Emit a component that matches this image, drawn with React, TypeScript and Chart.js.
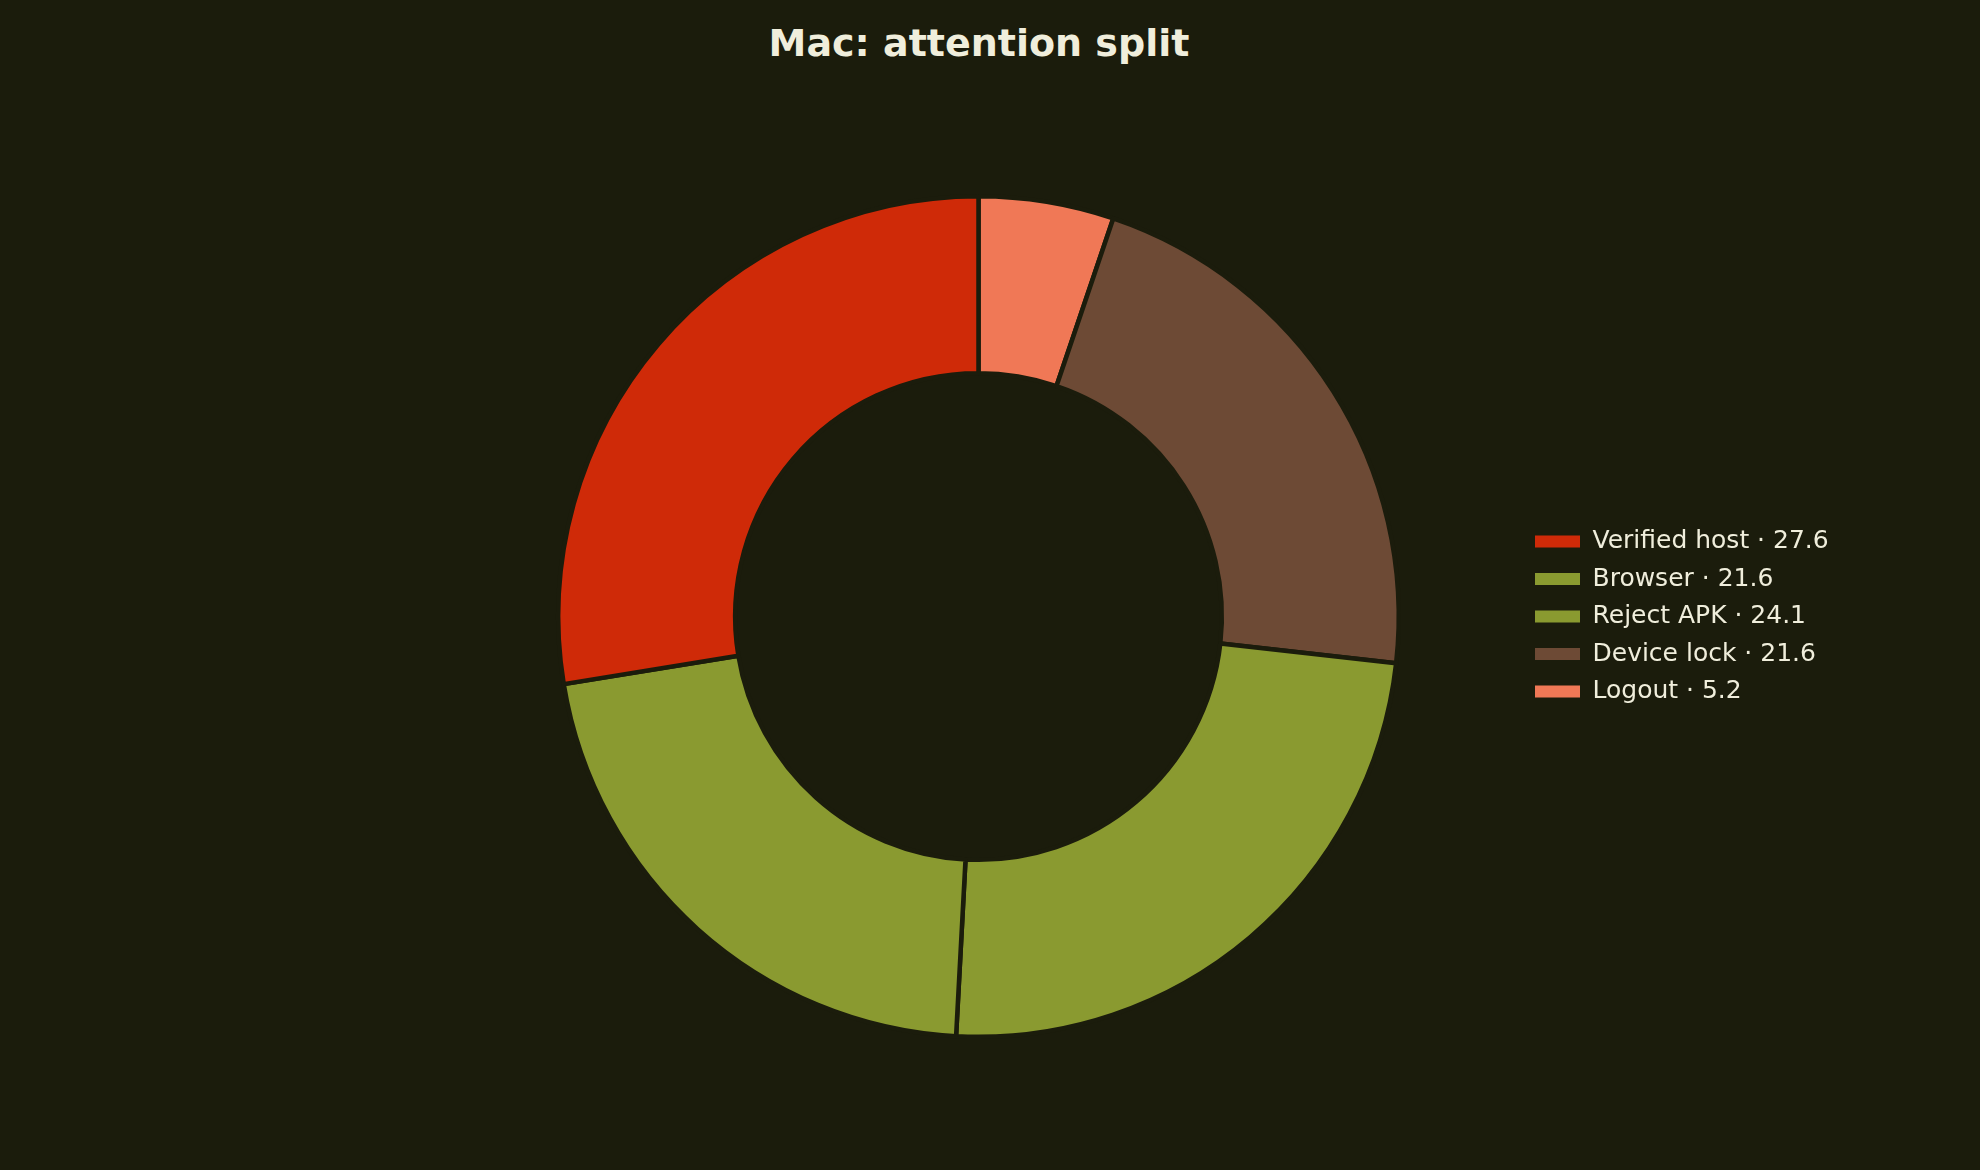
import { useEffect, useRef } from 'react';
import { Chart, DoughnutController, ArcElement, Legend } from 'chart.js';

Chart.register(DoughnutController, ArcElement, Legend);

const chartTitle = 'Mac: attention split';
// legend order (matplotlib draws these counter-clockwise from the top)
const categories = ['Verified host', 'Browser', 'Reject APK', 'Device lock', 'Logout'];
const values = [27.6, 21.6, 24.1, 21.6, 5.2];
const sliceColors = ['#cf2a08', '#8a9a30', '#8a9a30', '#6d4a35', '#f07856'];

const BG = '#1b1c0c';
const INK = '#f0eedc';
const FONT = '"DejaVu Sans", sans-serif';

const LEGEND_FONT = 25;
const LEGEND_PAD = 12.5;
const LEGEND_BOX = 45;
const LEGEND_LEFT = 1522.5; // chart area ends here, legend swatches start at +padding

const App = () => {
  const canvasRef = useRef<HTMLCanvasElement>(null);
  const chartRef = useRef<Chart | null>(null);

  useEffect(() => {
    if (!canvasRef.current) return;
    const ctx = canvasRef.current.getContext('2d');
    if (!ctx) return;

    if (chartRef.current) chartRef.current.destroy();

    const n = categories.length;
    const legendTexts = categories.map((c, i) => `${c} · ${values[i].toFixed(1)}`);

    // work out how wide Chart.js will make the legend so the donut lands in the right place
    ctx.save();
    ctx.font = `${LEGEND_FONT}px ${FONT}`;
    const textW = Math.max(...legendTexts.map(t => ctx.measureText(t).width));
    ctx.restore();
    const legendW = LEGEND_PAD + LEGEND_BOX + LEGEND_FONT / 2 + textW + 10;
    const rightPad = Math.max(1980 - LEGEND_LEFT - legendW, 0);

    // Chart.js goes clockwise, so feed the slices in reverse
    const order = categories.map((_, i) => n - 1 - i);

    chartRef.current = new Chart(ctx, {
      type: 'doughnut',
      data: {
        labels: order.map(i => categories[i]),
        datasets: [
          {
            data: order.map(i => values[i]),
            backgroundColor: order.map(i => sliceColors[i]),
            borderColor: BG,
            borderWidth: 4.5,
            hoverOffset: 0,
          },
        ],
      },
      options: {
        responsive: true,
        maintainAspectRatio: false,
        animation: false,
        cutout: '57.9%',
        rotation: 0,
        layout: {
          padding: { left: 434.5, right: rightPad, top: 194, bottom: 131 },
        },
        plugins: {
          tooltip: { enabled: false },
          legend: {
            position: 'right',
            align: 'center',
            labels: {
              boxWidth: LEGEND_BOX,
              boxHeight: 12,
              padding: LEGEND_PAD,
              color: INK,
              font: { family: FONT, size: LEGEND_FONT },
              generateLabels: () =>
                categories.map((_, i) => ({
                  text: legendTexts[i],
                  fillStyle: sliceColors[i],
                  strokeStyle: sliceColors[i],
                  fontColor: INK,
                  lineWidth: 0,
                  hidden: false,
                  index: n - 1 - i,
                })),
            },
          },
        },
      },
    });

    return () => {
      if (chartRef.current) {
        chartRef.current.destroy();
        chartRef.current = null;
      }
    };
  }, []);

  return (
    <div
      style={{
        position: 'fixed',
        left: 0,
        top: 0,
        width: 1980,
        height: 1170,
        background: BG,
        overflow: 'hidden',
      }}
    >
      <div
        style={{
          position: 'absolute',
          left: 0,
          top: 23.5,
          width: 1958,
          textAlign: 'center',
          fontFamily: FONT,
          fontWeight: 'bold',
          fontSize: 38,
          lineHeight: 1,
          color: INK,
        }}
      >
        {chartTitle}
      </div>
      <div style={{ position: 'absolute', left: 0, top: 0, width: 1980, height: 1170 }}>
        <canvas ref={canvasRef} />
      </div>
    </div>
  );
};

export default App;
